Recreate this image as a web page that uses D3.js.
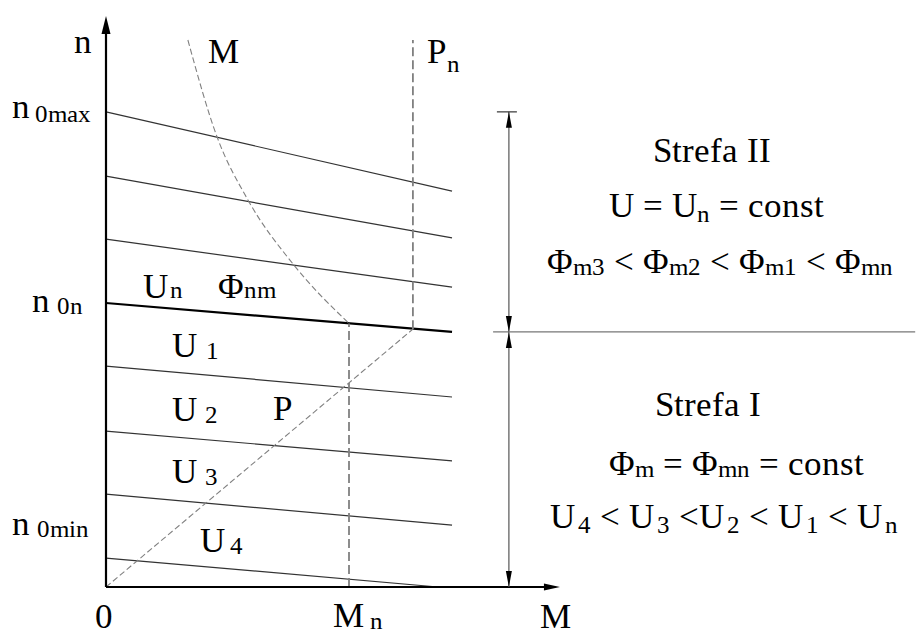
<!DOCTYPE html>
<html>
<head>
<meta charset="utf-8">
<script src="https://cdn.jsdelivr.net/npm/d3@7"></script>
<style>
  @font-face {
    font-family: "ChartSerif";
    src: local("Liberation Serif"), local("LiberationSerif"), local("LiberationSerif-Regular"),
         local("Liberation Serif Regular"), local("Tinos"), local("Tinos-Regular"),
         local("Times New Roman"), local("TimesNewRomanPSMT"), local("FreeSerif"), local("DejaVu Serif");
  }
</style>
</head>
<body style="margin:0">
<svg id="chart" width="920" height="635"></svg>
<script>
// Torque-speed characteristics of a DC motor (armature voltage + field control)

// Speed lines: no-load speed n0 at M = 0, end point (mEnd, nEnd)
const lineKeys   = ["n0max", "phi2", "phi1", "n0n", "U1", "U2", "U3", "U4"];
const n0Values   = [1.673, 1.447, 1.225, 1.000, 0.778, 0.549, 0.327, 0.102];
const mEndValues = [1.424, 1.424, 1.424, 1.424, 1.424, 1.424, 1.424, 1.366];
const nEndValues = [1.394, 1.229, 1.056, 0.898, 0.669, 0.444, 0.218, 0.000];

// Torque limit curve in the field-weakening zone (M, n)
const torqueCurveM = [0.337, 0.457, 0.584, 0.770, 1.000];
const torqueCurveN = [1.926, 1.585, 1.363, 1.137, 0.928];

// Characteristic values
const Mn = 1.0;          // rated torque
const nAtMn = 0.928;     // speed on the rated line at Mn
const MPn = 1.263;       // torque where the power line meets the rated line
const nAtPn = 0.908;
const nDashTop = 1.926;
const mAxisMax = 1.868;
const nAxisMax = 2.011;
const zoneDimM = 1.658;  // position of the zone dimension line
const zoneTop = 1.673;
const zoneBoundary = 0.898;
const boundaryM = [1.593, 3.33];

const FONT = '"ChartSerif", "Liberation Serif", Tinos, "Times New Roman", FreeSerif, "DejaVu Serif"';

const svg = d3.select("#chart");
const x = d3.scaleLinear().domain([0, 1]).range([106, 349]);
const y = d3.scaleLinear().domain([0, 1]).range([587, 303]);

const MAIN = 35, SUB = 25, GAP = 9;

// ---- labels: each part is its own text element, placed after the previous one.
// When centre is true, px is the horizontal centre of the whole label.
const labels = [];
function label(px, py, parts, centre) {
  const made = parts.map(p => svg.append("text")
    .attr("y", py + (p.sub ? (p.dy || 0) : 0))
    .style("font-family", FONT)
    .attr("font-size", p.sub ? SUB : MAIN)
    .text(p.t));
  labels.push({px, parts, made, centre});
}
function layoutLabels() {
  labels.forEach(({px, parts, made, centre}) => {
    let cx = 0;
    const offs = parts.map((p, i) => {
      cx += (p.dx || 0);
      const o = cx;
      cx += made[i].node().getComputedTextLength();
      return o;
    });
    const x0 = centre ? px - cx / 2 : px;
    made.forEach((t, i) => t.attr("x", x0 + offs[i]));
  });
}

label(74, 53, [{t: "n"}]);
label(12, 118, [{t: "n"}, {t: "0max", sub: true, dx: 5, dy: 4}]);
label(32, 312, [{t: "n"}, {t: "0n", sub: true, dx: 7, dy: 2}]);
label(12, 535, [{t: "n"}, {t: "0min", sub: true, dx: 7, dy: 2}]);

label(143, 298, [{t: "U"}, {t: "n", sub: true, dx: 2}]);
label(218, 298, [{t: "Φ"}, {t: "nm", sub: true}]);
label(208, 63, [{t: "M"}]);
label(427, 63, [{t: "P"}, {t: "n", sub: true, dx: 1, dy: 9}]);

label(172, 357, [{t: "U"}, {t: "1", sub: true, dx: 9, dy: 2}]);
label(172, 421, [{t: "U"}, {t: "2", sub: true, dx: 8, dy: 2}]);
label(273, 420, [{t: "P"}]);
label(172, 483, [{t: "U"}, {t: "3", sub: true, dx: 8, dy: 2}]);
label(200, 552, [{t: "U"}, {t: "4", sub: true, dx: 5, dy: 2}]);

label(95, 628, [{t: "0"}]);
label(333, 627, [{t: "M"}, {t: "n", sub: true, dx: 6, dy: 2}]);
label(540, 628, [{t: "M"}]);

// zone descriptions
label(712, 162, [{t: "Strefa II"}], true);
label(716, 217, [{t: "U = U"}, {t: "n", sub: true, dy: 5}, {t: "= const", dx: GAP}], true);
label(720, 273, [
  {t: "Φ"}, {t: "m3", sub: true, dy: 2}, {t: "< Φ", dx: GAP}, {t: "m2", sub: true, dy: 2},
  {t: "< Φ", dx: GAP}, {t: "m1", sub: true, dy: 2}, {t: "< Φ", dx: GAP}, {t: "mn", sub: true, dy: 2}
], true);
label(708, 416, [{t: "Strefa I"}], true);
label(736, 475, [{t: "Φ"}, {t: "m", sub: true, dy: 2}, {t: "= Φ", dx: GAP}, {t: "mn", sub: true, dy: 2}, {t: "= const", dx: GAP}], true);
label(724, 528, [
  {t: "U"}, {t: "4", sub: true, dx: 3, dy: 5}, {t: "< U", dx: GAP}, {t: "3", sub: true, dx: 3, dy: 5},
  {t: "<U", dx: GAP}, {t: "2", sub: true, dx: 3, dy: 5}, {t: "< U", dx: GAP}, {t: "1", sub: true, dx: 3, dy: 5},
  {t: "< U", dx: GAP}, {t: "n", sub: true, dx: 3, dy: 5}
], true);

layoutLabels();
if (document.fonts && document.fonts.load) {
  document.fonts.load(`${MAIN}px "ChartSerif"`).then(layoutLabels).catch(() => {});
  document.fonts.ready.then(layoutLabels);
}

// ---- speed characteristic lines
const lineGen = d3.line().x(d => x(d[0])).y(d => y(d[1]));
lineKeys.forEach((k, i) => {
  svg.append("path")
    .attr("d", lineGen([[0, n0Values[i]], [mEndValues[i], nEndValues[i]]]))
    .attr("fill", "none")
    .attr("stroke", k === "n0n" ? "#000" : "#333")
    .attr("stroke-width", k === "n0n" ? 2.2 : 1.2);
});

// ---- dashed construction lines
const dashStyle = sel => sel.attr("fill", "none").attr("stroke", "#808080");

// torque limit curve M
svg.append("path")
  .attr("d", d3.line().curve(d3.curveMonotoneX).x(d => x(d[0])).y(d => y(d[1]))(
    torqueCurveM.map((m, i) => [m, torqueCurveN[i]])))
  .call(dashStyle).attr("stroke-width", 1.1).attr("stroke-dasharray", "6,3");

// power line P from origin
svg.append("path")
  .attr("d", lineGen([[0, 0], [MPn, nAtPn]]))
  .call(dashStyle).attr("stroke-width", 1.1).attr("stroke-dasharray", "6,3");

// rated torque vertical Mn
svg.append("path")
  .attr("d", lineGen([[Mn, 0], [Mn, nAtMn]]))
  .call(dashStyle).attr("stroke-width", 1.8).attr("stroke-dasharray", "9,4");

// rated power vertical Pn
svg.append("path")
  .attr("d", lineGen([[MPn, nAtPn], [MPn, nDashTop]]))
  .call(dashStyle).attr("stroke-width", 1.8).attr("stroke-dasharray", "9,4");

// ---- axes
svg.append("path").attr("d", lineGen([[0, 0], [0, nAxisMax - 0.05]]))
  .attr("stroke", "#000").attr("stroke-width", 2.2);
svg.append("path").attr("d", lineGen([[0, 0], [mAxisMax - 0.05, 0]]))
  .attr("stroke", "#000").attr("stroke-width", 2.2);

function arrow(tx, ty, dir, len, half) {
  let pts;
  if (dir === "up") pts = [[tx, ty], [tx - half, ty + len], [tx + half, ty + len]];
  else if (dir === "down") pts = [[tx, ty], [tx - half, ty - len], [tx + half, ty - len]];
  else pts = [[tx, ty], [tx - len, ty - half], [tx - len, ty + half]];
  svg.append("path").attr("d", "M" + pts.join("L") + "Z").attr("fill", "#000");
}
arrow(x(0), y(nAxisMax), "up", 18, 4.5);
arrow(x(mAxisMax), y(0), "right", 16, 3.5);

// ---- zone dimension line and boundary
const zx = x(zoneDimM);
svg.append("line").attr("x1", zx).attr("x2", zx).attr("y1", y(zoneTop)).attr("y2", y(0))
  .attr("stroke", "#555").attr("stroke-width", 1.2);
svg.append("line").attr("x1", zx - 12).attr("x2", zx + 8).attr("y1", y(zoneTop)).attr("y2", y(zoneTop))
  .attr("stroke", "#333").attr("stroke-width", 1.2);
svg.append("line").attr("x1", x(boundaryM[0])).attr("x2", x(boundaryM[1]))
  .attr("y1", y(zoneBoundary)).attr("y2", y(zoneBoundary))
  .attr("stroke", "#777").attr("stroke-width", 1.2);
arrow(zx, y(zoneTop), "up", 16, 3);
arrow(zx, y(zoneBoundary), "down", 16, 3);
arrow(zx, y(zoneBoundary), "up", 16, 3);
arrow(zx, y(0), "down", 16, 3);
</script>
</body>
</html>
